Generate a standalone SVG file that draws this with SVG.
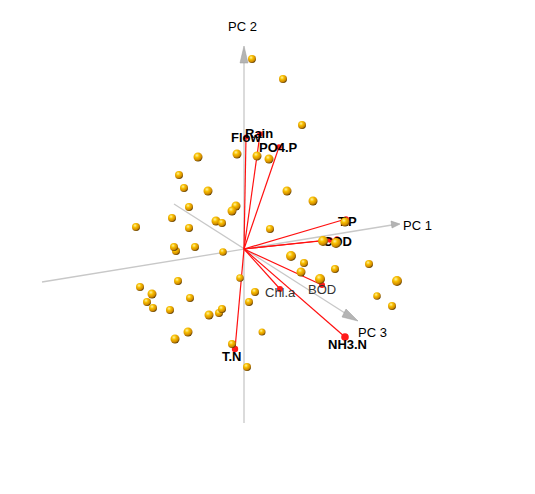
<svg xmlns="http://www.w3.org/2000/svg" width="535" height="494" viewBox="0 0 535 494">
<style>
.ax{stroke:#c8c8c8;stroke-width:1.3;fill:none}
.ah{fill:#b4b4b4;stroke:#9a9a9a;stroke-width:0.5}
.vec{stroke:#ff1010;stroke-width:1.2;fill:none}
.tip{fill:#ff1a1a}
.sp{fill:url(#ball)}
.lab{font-family:"Liberation Sans",Arial,sans-serif;font-size:13px;fill:#000}
.b{font-weight:bold}
.g{fill:#333}
</style>
<defs>
<radialGradient id="ball" cx="0.38" cy="0.32" r="0.7">
<stop offset="0" stop-color="#fff2a0"/>
<stop offset="0.35" stop-color="#f8c000"/>
<stop offset="0.75" stop-color="#d08a00"/>
<stop offset="1" stop-color="#5a3a00"/>
</radialGradient>
</defs>
<rect width="535" height="494" fill="#fff"/>
<g id="axes">
<line class="ax" x1="244" y1="423" x2="244" y2="60"/>
<polygon class="ah" points="244,46 240,63 248,63"/>
<line class="ax" x1="42" y1="282" x2="392" y2="225"/>
<polygon class="ah" points="400,224 391,221 392,228"/>
<line class="ax" x1="174" y1="204" x2="348" y2="315"/>
<polygon class="ah" points="358,321 346,309 342,317"/>
</g>
<g id="connectors">
<line class="vec" x1="244" y1="249" x2="246" y2="137"/>
<line class="vec" x1="244" y1="249" x2="260" y2="134"/>
<line class="vec" x1="244" y1="249" x2="279" y2="147"/>
<line class="vec" x1="244" y1="249" x2="346" y2="219"/>
<line class="vec" x1="244" y1="249" x2="330" y2="240"/>
<line class="vec" x1="244" y1="249" x2="337" y2="239"/>
<line class="vec" x1="244" y1="249" x2="322" y2="285"/>
<line class="vec" x1="244" y1="249" x2="280" y2="289"/>
<line class="vec" x1="244" y1="249" x2="345" y2="337"/>
<line class="vec" x1="244" y1="249" x2="235" y2="349"/>
<circle class="tip" cx="246" cy="137" r="2.5"/>
<circle class="tip" cx="260" cy="134" r="2.8"/>
<circle class="tip" cx="279" cy="147" r="2.8"/>
<circle class="tip" cx="346" cy="219" r="2.8"/>
<circle class="tip" cx="330" cy="240" r="2.8"/>
<circle class="tip" cx="337" cy="239" r="2.8"/>
<circle class="tip" cx="322" cy="285" r="3"/>
<circle class="tip" cx="280" cy="289" r="3"/>
<circle class="tip" cx="345" cy="337" r="3.8"/>
<circle class="tip" cx="235" cy="349" r="3.2"/>
</g>
<g id="labels">
<text class="lab" x="228" y="31">PC 2</text>
<text class="lab" x="403" y="230">PC 1</text>
<text class="lab" x="358" y="337">PC 3</text>
<text class="lab b" x="231" y="142">Flow</text>
<text class="lab b" x="245" y="138">Rain</text>
<text class="lab b" x="259" y="152">PO4.P</text>
<text class="lab b" x="338" y="226">T.P</text>
<text class="lab b" x="323" y="246">COD</text>
<text class="lab g" x="308" y="294">BOD</text>
<text class="lab g" x="265" y="297">Chl.a</text>
<text class="lab b" x="328" y="349">NH3.N</text>
<text class="lab b" x="222" y="361">T.N</text>
</g>
<g id="points">
<circle class="sp" cx="252" cy="59" r="4"/>
<circle class="sp" cx="283" cy="79" r="4"/>
<circle class="sp" cx="302" cy="125" r="4"/>
<circle class="sp" cx="237" cy="154" r="4.5"/>
<circle class="sp" cx="257" cy="156" r="4.5"/>
<circle class="sp" cx="269" cy="159" r="4.5"/>
<circle class="sp" cx="198" cy="157" r="4.5"/>
<circle class="sp" cx="179" cy="175" r="4"/>
<circle class="sp" cx="184" cy="188" r="4"/>
<circle class="sp" cx="208" cy="191" r="4.5"/>
<circle class="sp" cx="287" cy="191" r="4.5"/>
<circle class="sp" cx="313" cy="201" r="4.5"/>
<circle class="sp" cx="189" cy="207" r="4"/>
<circle class="sp" cx="236" cy="206" r="4.5"/>
<circle class="sp" cx="232" cy="211" r="4.5"/>
<circle class="sp" cx="172" cy="218" r="4"/>
<circle class="sp" cx="216" cy="221" r="4.5"/>
<circle class="sp" cx="222" cy="223" r="4"/>
<circle class="sp" cx="189" cy="228" r="4"/>
<circle class="sp" cx="136" cy="227" r="4"/>
<circle class="sp" cx="270" cy="229" r="4"/>
<circle class="sp" cx="345" cy="222" r="4.5"/>
<circle class="sp" cx="176" cy="251" r="4"/>
<circle class="sp" cx="174" cy="247" r="4"/>
<circle class="sp" cx="195" cy="247" r="4"/>
<circle class="sp" cx="223" cy="252" r="3.8"/>
<circle class="sp" cx="323" cy="241" r="5"/>
<circle class="sp" cx="336" cy="243" r="5"/>
<circle class="sp" cx="291" cy="256" r="5"/>
<circle class="sp" cx="304" cy="263" r="4"/>
<circle class="sp" cx="301" cy="272" r="4.5"/>
<circle class="sp" cx="320" cy="279" r="5"/>
<circle class="sp" cx="335" cy="269" r="4"/>
<circle class="sp" cx="369" cy="264" r="4"/>
<circle class="sp" cx="397" cy="281" r="5"/>
<circle class="sp" cx="377" cy="296" r="3.8"/>
<circle class="sp" cx="392" cy="306" r="4"/>
<circle class="sp" cx="240" cy="278" r="3.8"/>
<circle class="sp" cx="255" cy="292" r="4"/>
<circle class="sp" cx="249" cy="302" r="4"/>
<circle class="sp" cx="262" cy="332" r="3.5"/>
<circle class="sp" cx="178" cy="281" r="4"/>
<circle class="sp" cx="140" cy="287" r="4"/>
<circle class="sp" cx="152" cy="294" r="4.5"/>
<circle class="sp" cx="147" cy="302" r="4"/>
<circle class="sp" cx="153" cy="308" r="4"/>
<circle class="sp" cx="190" cy="298" r="4"/>
<circle class="sp" cx="170" cy="310" r="4"/>
<circle class="sp" cx="209" cy="315" r="4.5"/>
<circle class="sp" cx="219" cy="313" r="4"/>
<circle class="sp" cx="222" cy="309" r="4"/>
<circle class="sp" cx="188" cy="332" r="4.5"/>
<circle class="sp" cx="175" cy="339" r="4.5"/>
<circle class="sp" cx="232" cy="344" r="4"/>
<circle class="sp" cx="247" cy="367" r="4"/>
</g>
</svg>
